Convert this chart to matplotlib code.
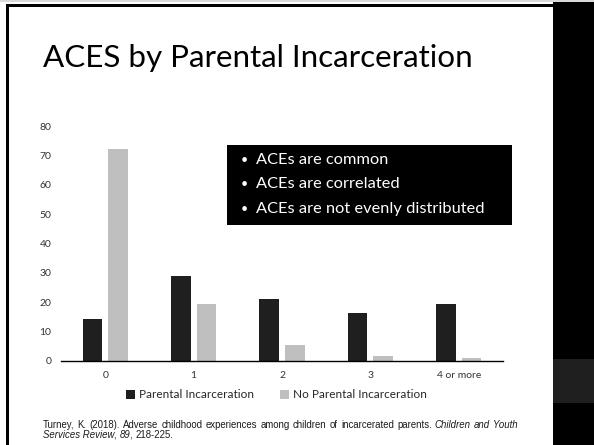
import matplotlib
matplotlib.use("Agg")
import matplotlib.pyplot as plt
from matplotlib.patches import Rectangle
import numpy as np

categories = ["0", "1", "2", "3", "4 or more"]
parental = [14.2, 28.9, 21.1, 16.4, 19.3]
no_parental = [72.1, 19.3, 5.3, 1.7, 1.0]
series_names = ["Parental Incarceration", "No Parental Incarceration"]
bullets = ["ACEs are common", "ACEs are correlated", "ACEs are not evenly distributed"]
title = "ACES by Parental Incarceration"

W, H = 594, 445
DARK = "#1f1f1f"
LIGHT = "#bfbfbf"
FONT = "Lato"
CITE = 6.9


def px(x, y):
    return x / W, 1 - y / H


def rect(fig, x0, y0, x1, y1, color):
    fig.patches.append(Rectangle(px(x0, y1), (x1 - x0) / W, (y1 - y0) / H,
                                 transform=fig.transFigure, color=color,
                                 linewidth=0, zorder=0))


fig = plt.figure(figsize=(W / 100, H / 100), dpi=100, facecolor="white")

# slide frame
rect(fig, 0, 0, W, 1.5, "#d9d9d9")
rect(fig, 6, 4, 553, 6.5, "black")
rect(fig, 6, 4, 8.5, H, "black")
rect(fig, 553, 1.5, W, H, "black")
rect(fig, 553, 359, W, 403, "#1f1f1f")

fig.text(*px(43, 67), title, fontsize=22.6, family=FONT, va="baseline", color="black")

# chart
ax = fig.add_axes([61 / W, 1 - 361 / H, (503 - 61) / W, (361 - 126) / H])
x = np.arange(len(categories))
bw = 0.22
ax.bar(x - 0.145, parental, bw, color=DARK, label=series_names[0])
ax.bar(x + 0.145, no_parental, bw, color=LIGHT, label=series_names[1])
ax.set_xlim(-0.5, len(categories) - 0.5)
ax.set_ylim(0, 80)
ax.set_yticks(range(0, 81, 10))
ax.set_xticks(x)
ax.set_xticklabels(categories)
for s in ["top", "right", "left"]:
    ax.spines[s].set_visible(False)
ax.spines["bottom"].set_color("black")
ax.spines["bottom"].set_linewidth(1.0)
ax.tick_params(length=0, labelsize=7.5, labelcolor="#333333", pad=7)
for lab in ax.get_xticklabels() + ax.get_yticklabels():
    lab.set_family(FONT)
ax.set_facecolor("none")

leg = fig.legend(loc="center", bbox_to_anchor=px(276, 395), ncol=2, frameon=False,
                 prop={"family": FONT, "size": 8.5}, handlelength=0.8, handleheight=0.8,
                 handletextpad=0.3, columnspacing=2.2)
for t in leg.get_texts():
    t.set_color("#262626")

# black text box
rect(fig, 227, 145, 512, 225, "black")
for i, b in enumerate(bullets):
    y = 164 + i * 24.5
    fig.text(*px(241, y), "\u2022", color="white", fontsize=9, family=FONT, va="baseline")
    fig.text(*px(256, y), b, color="white", fontsize=11.8, family=FONT, va="baseline")

# citation with mixed styles, first line justified
renderer = fig.canvas.get_renderer()


def cite_text(x, y, s, style):
    return fig.text(*px(x, y), s, fontsize=CITE, family="Liberation Sans", style=style,
                    va="baseline", color="#1a1a1a")


line1 = [("Turney,", "normal"), ("K.", "normal"), ("(2018).", "normal"),
         ("Adverse", "normal"), ("childhood", "normal"), ("experiences", "normal"),
         ("among", "normal"), ("children", "normal"), ("of", "normal"),
         ("incarcerated", "normal"), ("parents.", "normal"), ("Children", "italic"),
         ("and", "italic"), ("Youth", "italic")]
x0, x1 = 43, 518
texts = [cite_text(0, 428, w, s) for w, s in line1]
widths = [t.get_window_extent(renderer).width for t in texts]
gap = (x1 - x0 - sum(widths)) / (len(line1) - 1)
cx = x0
for t, wd in zip(texts, widths):
    t.set_x(cx / W)
    cx += wd + gap

# second line: pieces placed after the previous piece's right edge
line2 = [("Services Review", "italic", 0), (",", "normal", -1.0), ("89", "italic", 3.5),
         (",", "normal", -1.0), ("218-225.", "normal", 3.5)]
cx = x0
for w, s, before in line2:
    t = cite_text(cx + before, 438, w, s)
    cx = t.get_window_extent(renderer).x1

fig.savefig("out.png", dpi=100, facecolor="white")
